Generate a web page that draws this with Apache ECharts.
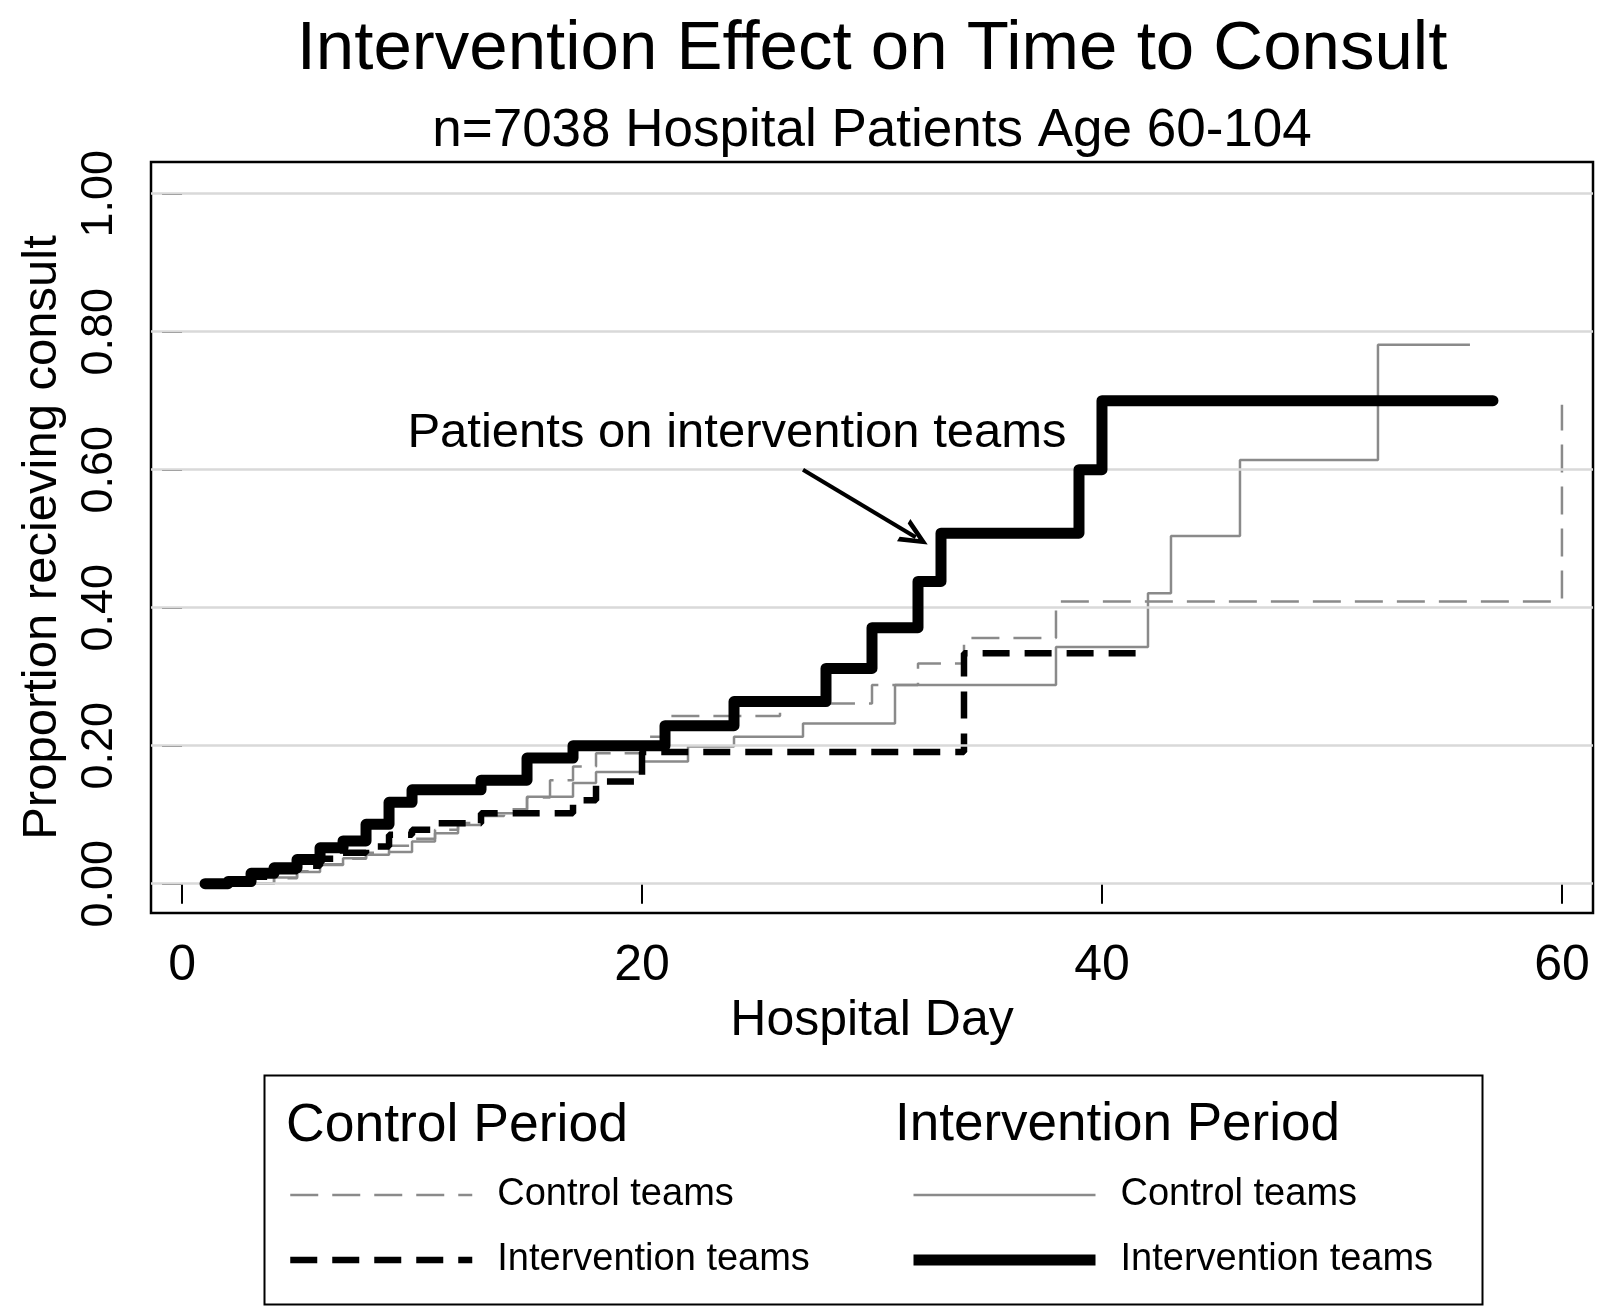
<!DOCTYPE html>
<html><head><meta charset="utf-8">
<script src="https://cdn.jsdelivr.net/npm/echarts@6/dist/echarts.min.js"></script>
<style>html,body{margin:0;padding:0;background:#fff}#c{width:1605px;height:1309px}</style>
</head><body><div id="c"></div>
<script>
// ---- Data ----
const titleText = 'Intervention Effect on Time to Consult';
const subtitleText = 'n=7038 Hospital Patients Age 60-104';
const xTicks = [0, 20, 40, 60];
const yTicks = [0, 0.2, 0.4, 0.6, 0.8, 1.0];

// Control Period – Control teams (gray dashed)
const cpCtrlDays = [3, 4, 5, 6, 7, 8, 9, 10, 11, 12, 13, 14, 15, 16, 17, 18, 20, 21, 26, 30, 32, 34, 38, 60];
const cpCtrlVals = [0, 0.008, 0.018, 0.028, 0.036, 0.045, 0.055, 0.065, 0.078, 0.088, 0.098, 0.108, 0.125, 0.150, 0.170, 0.189, 0.213, 0.243, 0.261, 0.288, 0.319, 0.356, 0.409, 0.694];

// Control Period – Intervention teams (black dashed)
const cpIntDays = [1, 3, 4, 5, 6, 7, 8, 9, 10, 11, 13, 17, 18, 20, 34, 42];
const cpIntVals = [0, 0.010, 0.018, 0.026, 0.036, 0.045, 0.054, 0.071, 0.078, 0.0875, 0.102, 0.121, 0.148, 0.191, 0.334, 0.334];

// Intervention Period – Control teams (gray solid)
const ipCtrlDays = [3, 4, 5, 6, 7, 8, 9, 10, 11, 12, 13, 15, 17, 18, 20, 22, 24, 27, 31, 38, 42, 43, 46, 52, 56];
const ipCtrlVals = [0, 0.009, 0.017, 0.027, 0.037, 0.042, 0.046, 0.061, 0.073, 0.085, 0.102, 0.126, 0.146, 0.162, 0.177, 0.199, 0.213, 0.232, 0.288, 0.343, 0.421, 0.504, 0.614, 0.781, 0.781];

// Intervention Period – Intervention teams (black thick solid)
const ipIntDays = [1, 2, 3, 4, 5, 6, 7, 8, 9, 10, 13, 15, 17, 21, 24, 28, 30, 32, 33, 39, 40, 57];
const ipIntVals = [0, 0.003, 0.015, 0.023, 0.035, 0.052, 0.062, 0.086, 0.118, 0.136, 0.150, 0.182, 0.200, 0.229, 0.264, 0.312, 0.371, 0.438, 0.508, 0.600, 0.700, 0.700];

const annotationText = 'Patients on intervention teams';
const arrowFrom = [27, 0.60];
const arrowTo = [31.9, 0.502];

// ---- Build ----
const zip = (d, v) => d.map((x, i) => [x, v[i]]);
const FONT = '"Liberation Sans", Arial, Helvetica, sans-serif';
const GRAY = '#8a8a8a';

const chart = echarts.init(document.getElementById('c'), null, {renderer: 'canvas'});
const nameLabel = n => n.split(': ')[1];

const legendCommon = {
  orient: 'vertical', top: 1171, itemWidth: 182, itemHeight: 40, itemGap: 27,
  selectedMode: false, formatter: nameLabel, padding: 5,
  itemStyle: {opacity: 0},
  lineStyle: {width: 'inherit', type: 'inherit', color: 'inherit', cap: 'butt'},
  textStyle: {fontFamily: FONT, fontSize: 38, color: '#000', padding: [0, 0, 0, 20]}
};

const option = {
  animation: false,
  backgroundColor: '#fff',
  textStyle: {fontFamily: FONT, color: '#000'},
  title: {
    text: titleText, subtext: subtitleText,
    left: 867, top: 10, textAlign: 'center', itemGap: 21,
    textStyle: {fontFamily: FONT, fontSize: 69, fontWeight: 'normal', color: '#000'},
    subtextStyle: {fontFamily: FONT, fontSize: 53, color: '#000'}
  },
  grid: {left: 151, top: 162, right: 12, bottom: 396, show: true, borderColor: '#000', borderWidth: 2.5, containLabel: false},
  xAxis: {
    type: 'value', min: -1.35, max: 61.35,
    name: 'Hospital Day', nameLocation: 'middle', nameGap: 83,
    nameTextStyle: {fontFamily: FONT, fontSize: 50, color: '#000'},
    axisLine: {show: false},
    axisTick: {show: true, length: 20, customValues: xTicks, lineStyle: {color: '#000', width: 2}},
    axisLabel: {customValues: xTicks, fontFamily: FONT, fontSize: 50, color: '#000', margin: 28},
    splitLine: {show: false}
  },
  yAxis: {
    type: 'value', min: -0.0425, max: 1.046,
    name: 'Proportion recieving consult', nameLocation: 'middle', nameGap: 84,
    nameTextStyle: {fontFamily: FONT, fontSize: 49, color: '#000'},
    axisLine: {show: false},
    axisTick: {show: true, length: 20, customValues: yTicks, lineStyle: {color: '#000', width: 2}},
    axisLabel: {customValues: yTicks, rotate: 90, fontFamily: FONT, fontSize: 45, color: '#000', margin: 29,
      formatter: v => Number(v).toFixed(2)},
    splitLine: {show: false}
  },
  legend: [
    Object.assign({}, legendCommon, {
      data: ['Control Period: Control teams', 'Control Period: Intervention teams'], left: 282
    }),
    Object.assign({}, legendCommon, {
      data: ['Intervention Period: Control teams', 'Intervention Period: Intervention teams'], left: 903
    })
  ],
  graphic: [
    {type: 'rect', left: 262, top: 1073, z: 0, shape: {width: 1218, height: 229}, style: {fill: 'none', stroke: '#000', lineWidth: 2}},
    {type: 'text', left: 286, top: 1099, style: {text: 'Control Period', font: '53.5px ' + FONT, fill: '#000'}},
    {type: 'text', left: 895, top: 1099, style: {text: 'Intervention Period', font: '53px ' + FONT, fill: '#000'}},
    {type: 'text', x: 737, y: 409, style: {text: annotationText, font: '49px ' + FONT, fill: '#000', align: 'center', verticalAlign: 'top'}, z: 10}
  ],
  series: [
    {
      name: '_grid', type: 'line', data: [], z: 0, silent: true,
      markLine: {silent: true, symbol: 'none', label: {show: false},
        lineStyle: {color: '#d9d9d9', width: 2.5, type: 'solid'},
        data: yTicks.map(v => ({yAxis: v}))}
    },
    {
      name: 'Control Period: Control teams', type: 'line', step: 'end', showSymbol: false, symbol: 'none', z: 2,
      data: zip(cpCtrlDays, cpCtrlVals),
      lineStyle: {color: GRAY, width: 2.5, type: [28, 14]}, itemStyle: {color: GRAY}
    },
    {
      name: 'Intervention Period: Control teams', type: 'line', step: 'end', showSymbol: false, symbol: 'none', z: 3,
      data: zip(ipCtrlDays, ipCtrlVals),
      lineStyle: {color: GRAY, width: 2.5, type: 'solid'}, itemStyle: {color: GRAY}
    },
    {
      name: 'Control Period: Intervention teams', type: 'line', step: 'end', showSymbol: false, symbol: 'none', z: 4,
      data: zip(cpIntDays, cpIntVals),
      lineStyle: {color: '#000', width: 6.5, type: [27, 15]}, itemStyle: {color: '#000'}
    },
    {
      name: 'Intervention Period: Intervention teams', type: 'line', step: 'end', showSymbol: false, symbol: 'none', z: 5,
      data: zip(ipIntDays, ipIntVals),
      lineStyle: {color: '#000', width: 11, type: 'solid', cap: 'round', join: 'round'}, itemStyle: {color: '#000'},
      markLine: {
        silent: true, label: {show: false},
        symbol: ['none', 'path://M10,0 L20,22 L16,22 L10,8.5 L4,22 L0,22 Z'], symbolSize: [26, 28],
        lineStyle: {color: '#000', width: 4, type: 'solid'},
        data: [[{coord: arrowFrom}, {coord: arrowTo}]]
      }
    }
  ]
};
chart.setOption(option);
</script></body></html>
